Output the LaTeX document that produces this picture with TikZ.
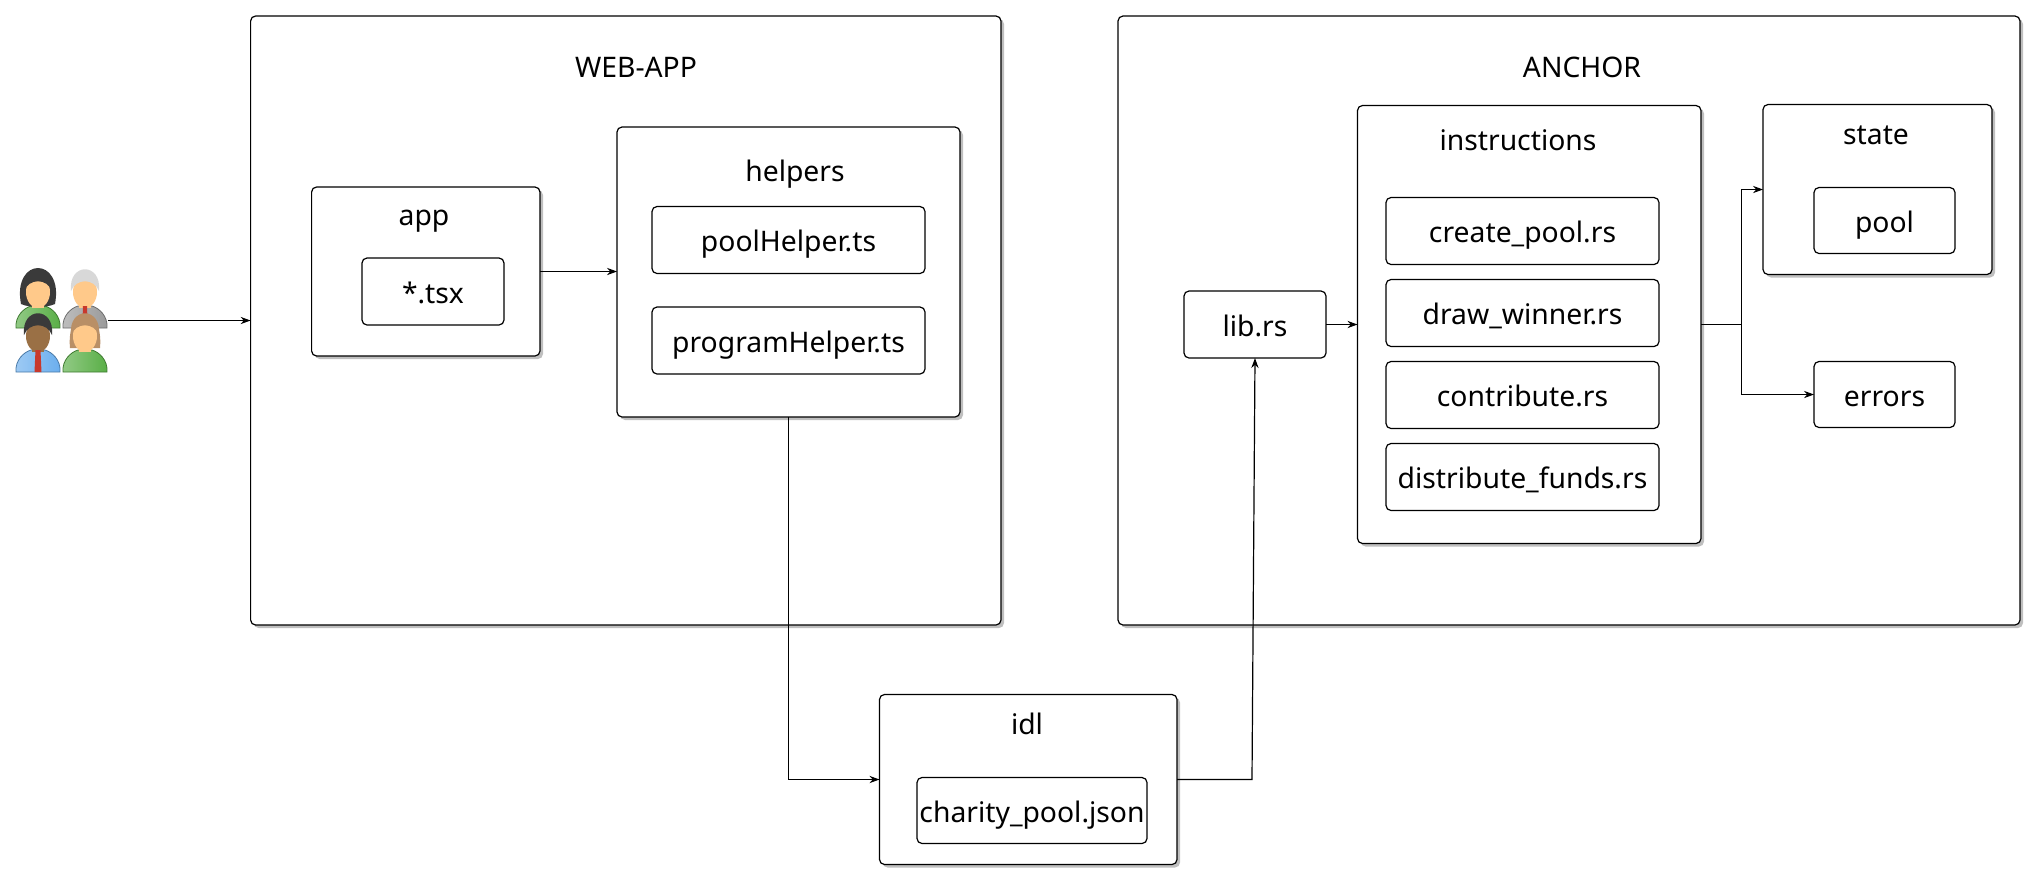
\documentclass[tikz,border=0pt]{standalone}
\usepackage{fontspec}
\setmainfont{Noto Sans}
\usetikzlibrary{arrows.meta,positioning,shadows}
\definecolor{hairdark}{HTML}{3A3A3A}
\definecolor{hairgrey}{HTML}{D8D8D8}
\definecolor{hairtan}{HTML}{B98F66}
\definecolor{skinlight}{HTML}{FFC98A}
\definecolor{skinbrown}{HTML}{9A7045}
\definecolor{shirtgreen}{HTML}{58AE45}
\definecolor{shirtgrey}{HTML}{9A9A9A}
\definecolor{shirtblue}{HTML}{6AAEEE}
\definecolor{tiered}{HTML}{C8382C}
\newcommand{\drawperson}[6]{%
  \begin{scope}[shift={(#1)}]
    \draw[draw=#4!70!black, left color=#4!65!white, right color=#4, line width=0.4pt]
      (-22,0) .. controls (-23,-12) and (-14,-20) .. (-7,-22) -- (7,-22)
      .. controls (14,-20) and (23,-12) .. (22,0) -- cycle;
    #5
    \fill[#3] (0,-36) ellipse (12 and 16);
    \fill[#3] (-6,-30) rectangle (6,-20);
    \fill[#2] (-14,-37) .. controls (-17,-66) and (17,-66) .. (14,-37)
      .. controls (9,-50) and (-9,-50) .. cycle;
    #6
  \end{scope}%
}

\begin{document}
\begin{tikzpicture}[
  x=0.5pt, y=-0.5pt,
  every node/.style={font=\fontsize{14.15}{17}\selectfont, inner sep=0pt, outer sep=0pt,
                     text height=12pt, text depth=1.4pt},
  every path/.style={line width=0.6pt},
  shell/.style={draw, fill=white, rounded corners=2.5pt, anchor=north west,
                drop shadow={shadow xshift=1.5pt, shadow yshift=-1.5pt, fill=black, opacity=0.25}},
  item/.style={draw, fill=white, rounded corners=2.5pt, align=center, minimum height=33.5pt,
               text height=12.9pt},
  arr/.style={-{Stealth[length=5pt, width=3.6pt]}}
]
\useasboundingbox (0,0) rectangle (2036,880);

\node[shell, minimum width=375.2pt, minimum height=304.5pt] (webapp) at (250.6,16) {};
\node[shell, anchor=west, minimum width=451pt, minimum height=304.5pt, right=58.5pt of webapp] (anchorbox) {};
\node[shell, minimum width=148.75pt, minimum height=85pt] (idl) at (879.5,694.5) {};

\node (webapptitle) at (636,67.3) {WEB-APP};
\node (anchortitle) at (1582,67.3) {ANCHOR};
\node (idltitle) at (1027,724.3) {idl};

\node[shell, minimum width=114.2pt, minimum height=84.5pt, below right=85.5pt and 30.5pt of webapp.north west] (app) {};
\node[item, anchor=north west, minimum width=71pt, below right=35.5pt and 25.2pt of app.north west] (tsx) {*.tsx};
\node (apptitle) at (424,215) {app};

\node[shell, minimum width=171.5pt, minimum height=145pt, below right=55.5pt and 183.2pt of webapp.north west] (helpers) {};
\node[item, minimum width=136.5pt, below right=39.75pt and 17.5pt of helpers.north west] (poolhelper) {poolHelper.ts};
\node[item, minimum width=136.5pt, below=16.75pt of poolhelper] (programhelper) {programHelper.ts};
\node (helperstitle) at (795,171.2) {helpers};

\node[item, minimum width=115pt, minimum height=33pt, below right=41.5pt and 18.75pt of idl.north west] (charity) {charity\_pool.json};

\node[item, minimum width=71pt, below right=137.5pt and 33pt of anchorbox.north west] (lib) {lib.rs};
\node[shell, anchor=west, minimum width=171.75pt, minimum height=219pt, right=15.75pt of lib] (instructions) {};
\node (instructionstitle) at (1518,139.7) {instructions};
\node[item, minimum width=136.5pt, below right=46pt and 14.25pt of instructions.north west] (createpool) {create\_pool.rs};
\node[item, minimum width=136.5pt, below=7.5pt of createpool] (drawwinner) {draw\_winner.rs};
\node[item, minimum width=136.5pt, below=7.5pt of drawwinner] (contribute) {contribute.rs};
\node[item, minimum width=136.5pt, below=7.5pt of contribute] (distribute) {distribute\_funds.rs};

\node[shell, minimum width=114.5pt, minimum height=85pt, below right=44.25pt and 322.5pt of anchorbox.north west] (state) {};
\node (statetitle) at (1876,133.7) {state};
\node[item, minimum width=70.5pt, minimum height=33pt, below right=41.5pt and 25.5pt of state.north west] (pool) {pool};
\node[item, minimum width=70.5pt, minimum height=33pt, below=54pt of pool] (errors) {errors};

\drawperson{38,328}{hairdark}{skinlight}{shirtgreen}{\fill[hairdark] (-17,-24) .. controls (-26,-72) and (26,-72) .. (17,-24) .. controls (8,-20) and (-8,-20) .. cycle;}{}
\drawperson{85,328}{hairgrey}{skinlight}{shirtgrey}{}{\fill[tiered] (-2,-22) -- (2,-22) -- (2.5,-8) -- (-2.5,-8) -- cycle;}
\drawperson{38,372}{hairdark}{skinbrown}{shirtblue}{}{\fill[tiered] (-2.5,-22) -- (2.5,-22) -- (3.5,0) -- (-3.5,0) -- cycle;}
\drawperson{85,372}{hairtan}{skinlight}{shirtgreen}{\fill[hairtan] (-15,-24) .. controls (-19,-68) and (19,-68) .. (15,-24) -- cycle;}{}
\node[minimum width=46pt, minimum height=51pt] (users) at (62,320.5) {};

\coordinate (idlbend) at (1252,779.5);
\coordinate (splitpoint) at (1741.5,324.5);

\draw[arr] (users.east) -- (users.east -| webapp.west);
\draw[arr] (app) -- (app -| helpers.west);
\draw[arr] (helpers.south) |- (idl.west);
\draw[arr] (idl.east) -- (idlbend) -- (lib.south);
\draw[arr] (lib) -- (instructions);
\draw (instructions.east) -- (splitpoint);
\draw[arr] (splitpoint) |- (state.west);
\draw[arr] (splitpoint) |- (errors.west);
\end{tikzpicture}
\end{document}
